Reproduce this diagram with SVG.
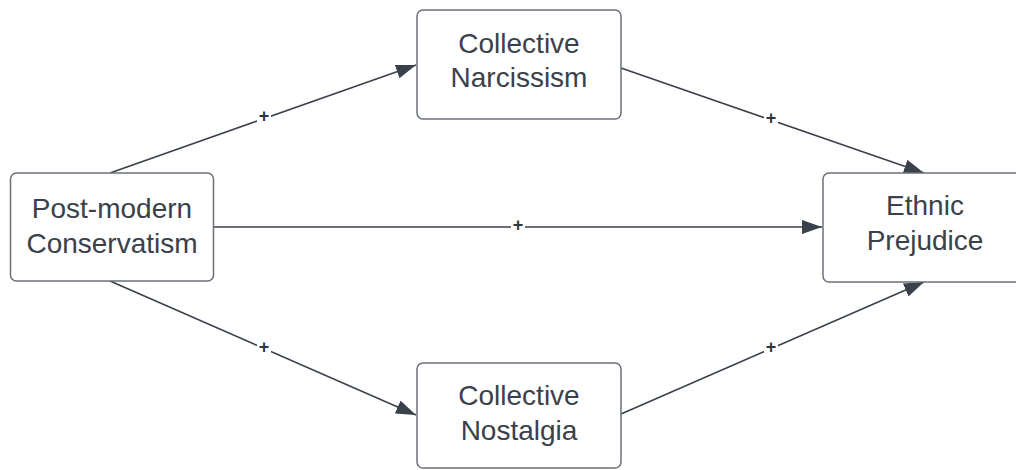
<svg xmlns="http://www.w3.org/2000/svg" width="1016" height="470" viewBox="0 0 1016 470">
  <style>
    .box { fill: #ffffff; stroke: #6b7179; stroke-width: 1.5; }
    .lbl { font-family: "Liberation Sans", Arial, sans-serif; font-size: 28px; fill: #3a414a; text-anchor: middle; }
    .edge { stroke: #3a414a; stroke-width: 1.6; fill: none; }
    .plus { font-family: "Liberation Sans", Arial, sans-serif; font-size: 18px; font-weight: bold; fill: #2f353c; text-anchor: middle; }
    .pbg { fill: #ffffff; }
  </style>
  <defs>
    <marker id="arrow" markerUnits="userSpaceOnUse" markerWidth="21" markerHeight="15" refX="20" refY="7" orient="auto">
      <path d="M0,0 L20,7 L0,14 Z" fill="#3a414a"/>
    </marker>
  </defs>
  <rect width="1016" height="470" fill="#ffffff"/>

  <g id="connectors">
    <line class="edge" x1="110" y1="173" x2="416" y2="65" marker-end="url(#arrow)"/>
    <line class="edge" x1="621" y1="68" x2="924" y2="173" marker-end="url(#arrow)"/>
    <line class="edge" x1="213" y1="227" x2="822" y2="227" stroke-width="2" marker-end="url(#arrow)"/>
    <line class="edge" x1="110" y1="281" x2="416" y2="415" marker-end="url(#arrow)"/>
    <line class="edge" x1="621" y1="414" x2="924" y2="282" marker-end="url(#arrow)"/>

    <rect class="pbg" x="257" y="110" width="14" height="13"/>
    <text class="plus" x="264" y="122">+</text>
    <rect class="pbg" x="764" y="112" width="14" height="13"/>
    <text class="plus" x="771" y="124">+</text>
    <rect class="pbg" x="511" y="219" width="14" height="14"/>
    <text class="plus" x="518" y="231">+</text>
    <rect class="pbg" x="257" y="341" width="14" height="13"/>
    <text class="plus" x="264" y="353">+</text>
    <rect class="pbg" x="764" y="341" width="14" height="13"/>
    <text class="plus" x="771" y="353">+</text>
  </g>

  <g id="node-postmodern">
    <rect class="box" x="10.5" y="173" width="203" height="108" rx="6"/>
    <text class="lbl" x="112" y="218">Post-modern</text>
    <text class="lbl" x="112" y="253">Conservatism</text>
  </g>

  <g id="node-narcissism">
    <rect class="box" x="417" y="10" width="204" height="109" rx="6"/>
    <text class="lbl" x="519" y="53">Collective</text>
    <text class="lbl" x="519" y="87">Narcissism</text>
  </g>

  <g id="node-nostalgia">
    <rect class="box" x="417" y="363" width="204" height="105" rx="6"/>
    <text class="lbl" x="519" y="405">Collective</text>
    <text class="lbl" x="519" y="440">Nostalgia</text>
  </g>

  <g id="node-prejudice">
    <rect class="box" x="823" y="173" width="204" height="109" rx="6"/>
    <text class="lbl" x="925" y="215">Ethnic</text>
    <text class="lbl" x="925" y="250">Prejudice</text>
  </g>
</svg>
